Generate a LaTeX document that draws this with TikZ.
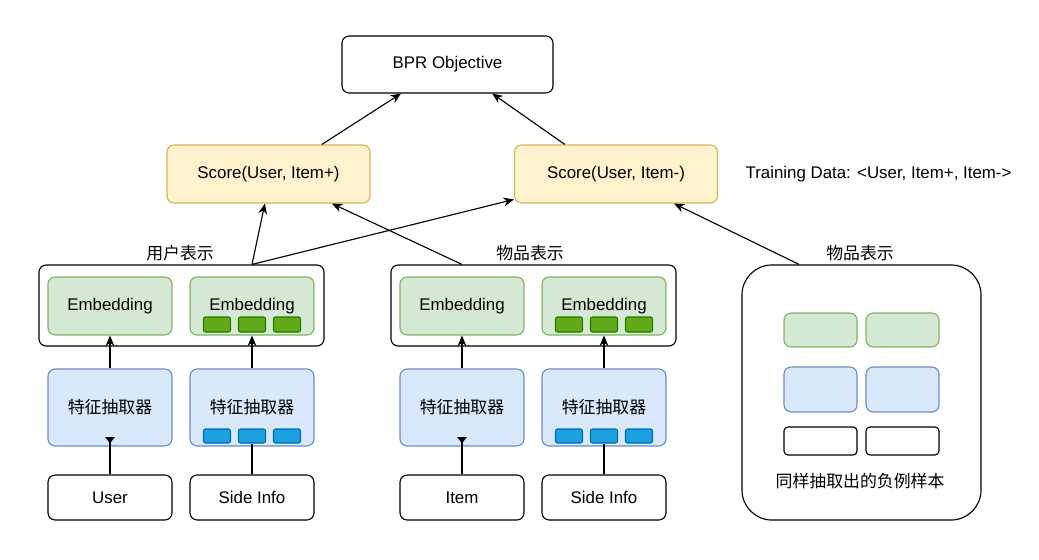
\documentclass[tikz,border=0pt]{standalone}
\usepackage{fontspec}
\setmainfont{Liberation Sans}
\newfontfamily\cjk{Noto Sans CJK SC}
\usetikzlibrary{arrows.meta, positioning}

\definecolor{embfill}{HTML}{D5E8D4}
\definecolor{embline}{HTML}{82B366}
\definecolor{extfill}{HTML}{DAE8FC}
\definecolor{extline}{HTML}{6C8EBF}
\definecolor{scorefill}{HTML}{FFF2CC}
\definecolor{scoreline}{HTML}{D6B656}
\definecolor{gchipfill}{HTML}{60A917}
\definecolor{gchipline}{HTML}{2D7600}
\definecolor{bchipfill}{HTML}{1BA1E2}
\definecolor{bchipline}{HTML}{006EAF}

\begin{document}
\begin{tikzpicture}[x=0.025cm, y=-0.025cm, line width=0.8pt,
                    >={Stealth[length=2.6mm, width=2.2mm]},
                    font=\fontsize{12}{14}\selectfont,
                    box/.style={draw, rounded corners=0.18cm, align=center, inner sep=0pt},
                    plainbox/.style={box, fill=white, minimum width=3.1cm, minimum height=1.125cm},
                    embbox/.style={box, fill=embfill, draw=embline, minimum width=3.1cm, minimum height=1.45cm},
                    extbox/.style={box, fill=extfill, draw=extline, minimum width=3.1cm, minimum height=1.925cm},
                    scorebox/.style={box, fill=scorefill, draw=scoreline, minimum width=5.075cm, minimum height=1.45cm},
                    groupbox/.style={box, minimum width=7.125cm, minimum height=2.025cm},
                    gchip/.style={draw=gchipline, fill=gchipfill, rounded corners=1.5pt, minimum width=0.675cm, minimum height=0.375cm, inner sep=0pt},
                    bchip/.style={draw=bchipline, fill=bchipfill, rounded corners=1.5pt, minimum width=0.675cm, minimum height=0.35cm, inner sep=0pt},
                    cut/.style={-{Latex[reversed, length=1.8mm, width=2.6mm]}},
                    lbl/.style={inner sep=0pt}]
    \useasboundingbox (0,0) rectangle (1039,559);

    % Objective and scores
    \node[box, minimum width=5.275cm, minimum height=1.425cm] (bpr) at (447.5,64.5) {BPR Objective};
    \node[scorebox] (sp) at (268.5,174) {Score(User, Item+)};
    \node[scorebox] (sm) at (616,174) {Score(User, Item-)};
    \node[lbl, anchor=west] (train) at (745,174) {Training Data: <User, Item+, Item->};

    % Group frames
    \node[lbl] (ulbl) at (180,253) {\cjk 用户表示};
    \node[lbl] (ilbl) at (530,253) {\cjk 物品表示};
    \node[lbl] (nlbl) at (860,253) {\cjk 物品表示};
    \node[groupbox] (ucont) at (181.5,305.5) {};
    \node[groupbox] (icont) at (533.5,305.5) {};
    \node[draw, rounded corners=0.75cm, minimum width=5.975cm, minimum height=6.375cm] (ncont) at (861.5,392.5) {};

    % Embeddings
    \node[embbox] (emb1) at (110,306) {Embedding};
    \node[embbox] (emb2) at (252,306) {Embedding};
    \node[embbox] (emb3) at (462,306) {Embedding};
    \node[embbox] (emb4) at (604,306) {Embedding};
    \node[gchip] (g2a) at (217,324.5) {}; \node[gchip] (g2b) at (252,324.5) {}; \node[gchip] (g2c) at (287,324.5) {};
    \node[gchip] (g4a) at (569,324.5) {}; \node[gchip] (g4b) at (604,324.5) {}; \node[gchip] (g4c) at (639,324.5) {};

    % Feature extractors
    \node[extbox] (ext1) at (110,407.5) {\cjk 特征抽取器};
    \node[extbox] (ext2) at (252,407.5) {\cjk 特征抽取器};
    \node[extbox] (ext3) at (462,407.5) {\cjk 特征抽取器};
    \node[extbox] (ext4) at (604,407.5) {\cjk 特征抽取器};
    \node[bchip] (b2a) at (217,436) {}; \node[bchip] (b2b) at (252,436) {}; \node[bchip] (b2c) at (287,436) {};
    \node[bchip] (b4a) at (569,436) {}; \node[bchip] (b4b) at (604,436) {}; \node[bchip] (b4c) at (639,436) {};

    % Inputs
    \node[plainbox] (user) at (110,497.5) {User};
    \node[plainbox] (side1) at (252,497.5) {Side Info};
    \node[plainbox] (item) at (462,497.5) {Item};
    \node[plainbox] (side2) at (604,497.5) {Side Info};

    % Negative samples
    \node[box, fill=embfill, draw=embline, minimum width=1.825cm, minimum height=0.85cm] (ng1) at (820.5,330) {};
    \node[box, fill=embfill, draw=embline, minimum width=1.825cm, minimum height=0.85cm] (ng2) at (902.5,330) {};
    \node[box, fill=extfill, draw=extline, minimum width=1.825cm, minimum height=1.125cm] (nb1) at (820.5,389.5) {};
    \node[box, fill=extfill, draw=extline, minimum width=1.825cm, minimum height=1.125cm] (nb2) at (902.5,389.5) {};
    \node[box, rounded corners=0.1cm, minimum width=1.825cm, minimum height=0.7cm] (nw1) at (820.5,441) {};
    \node[box, rounded corners=0.1cm, minimum width=1.825cm, minimum height=0.7cm] (nw2) at (902.5,441) {};
    \node[lbl] (ntext) at (860,481) {\cjk 同样抽取出的负例样本};

    % Cut ends inside the extractors
    \coordinate (ucut) at (110,437);
    \coordinate (icut) at (462,437);

    % Inputs to extractors
    \draw[cut] (user) -- (ucut);
    \draw (side1) -- (b2b);
    \draw[cut] (item) -- (icut);
    \draw (side2) -- (b4b);

    % Extractors to embeddings
    \draw[->] (ext1) -- (emb1);
    \draw[->] (ext2) -- (emb2);
    \draw[->] (ext3) -- (emb3);
    \draw[->] (ext4) -- (emb4);

    % Representations to scores
    \draw[->] (emb2 |- ucont.north) -- (sp.-97);
    \draw[->] (emb2 |- ucont.north) -- (sm.194);
    \draw[->] (emb3 |- icont.north) -- (sp.-25);
    \draw[->] (ncont.116) -- (sm.-27);

    % Scores to objective
    \draw[->] (sp.29) -- (bpr.212);
    \draw[->] (sm.150) -- (bpr.-33);
\end{tikzpicture}
\end{document}
